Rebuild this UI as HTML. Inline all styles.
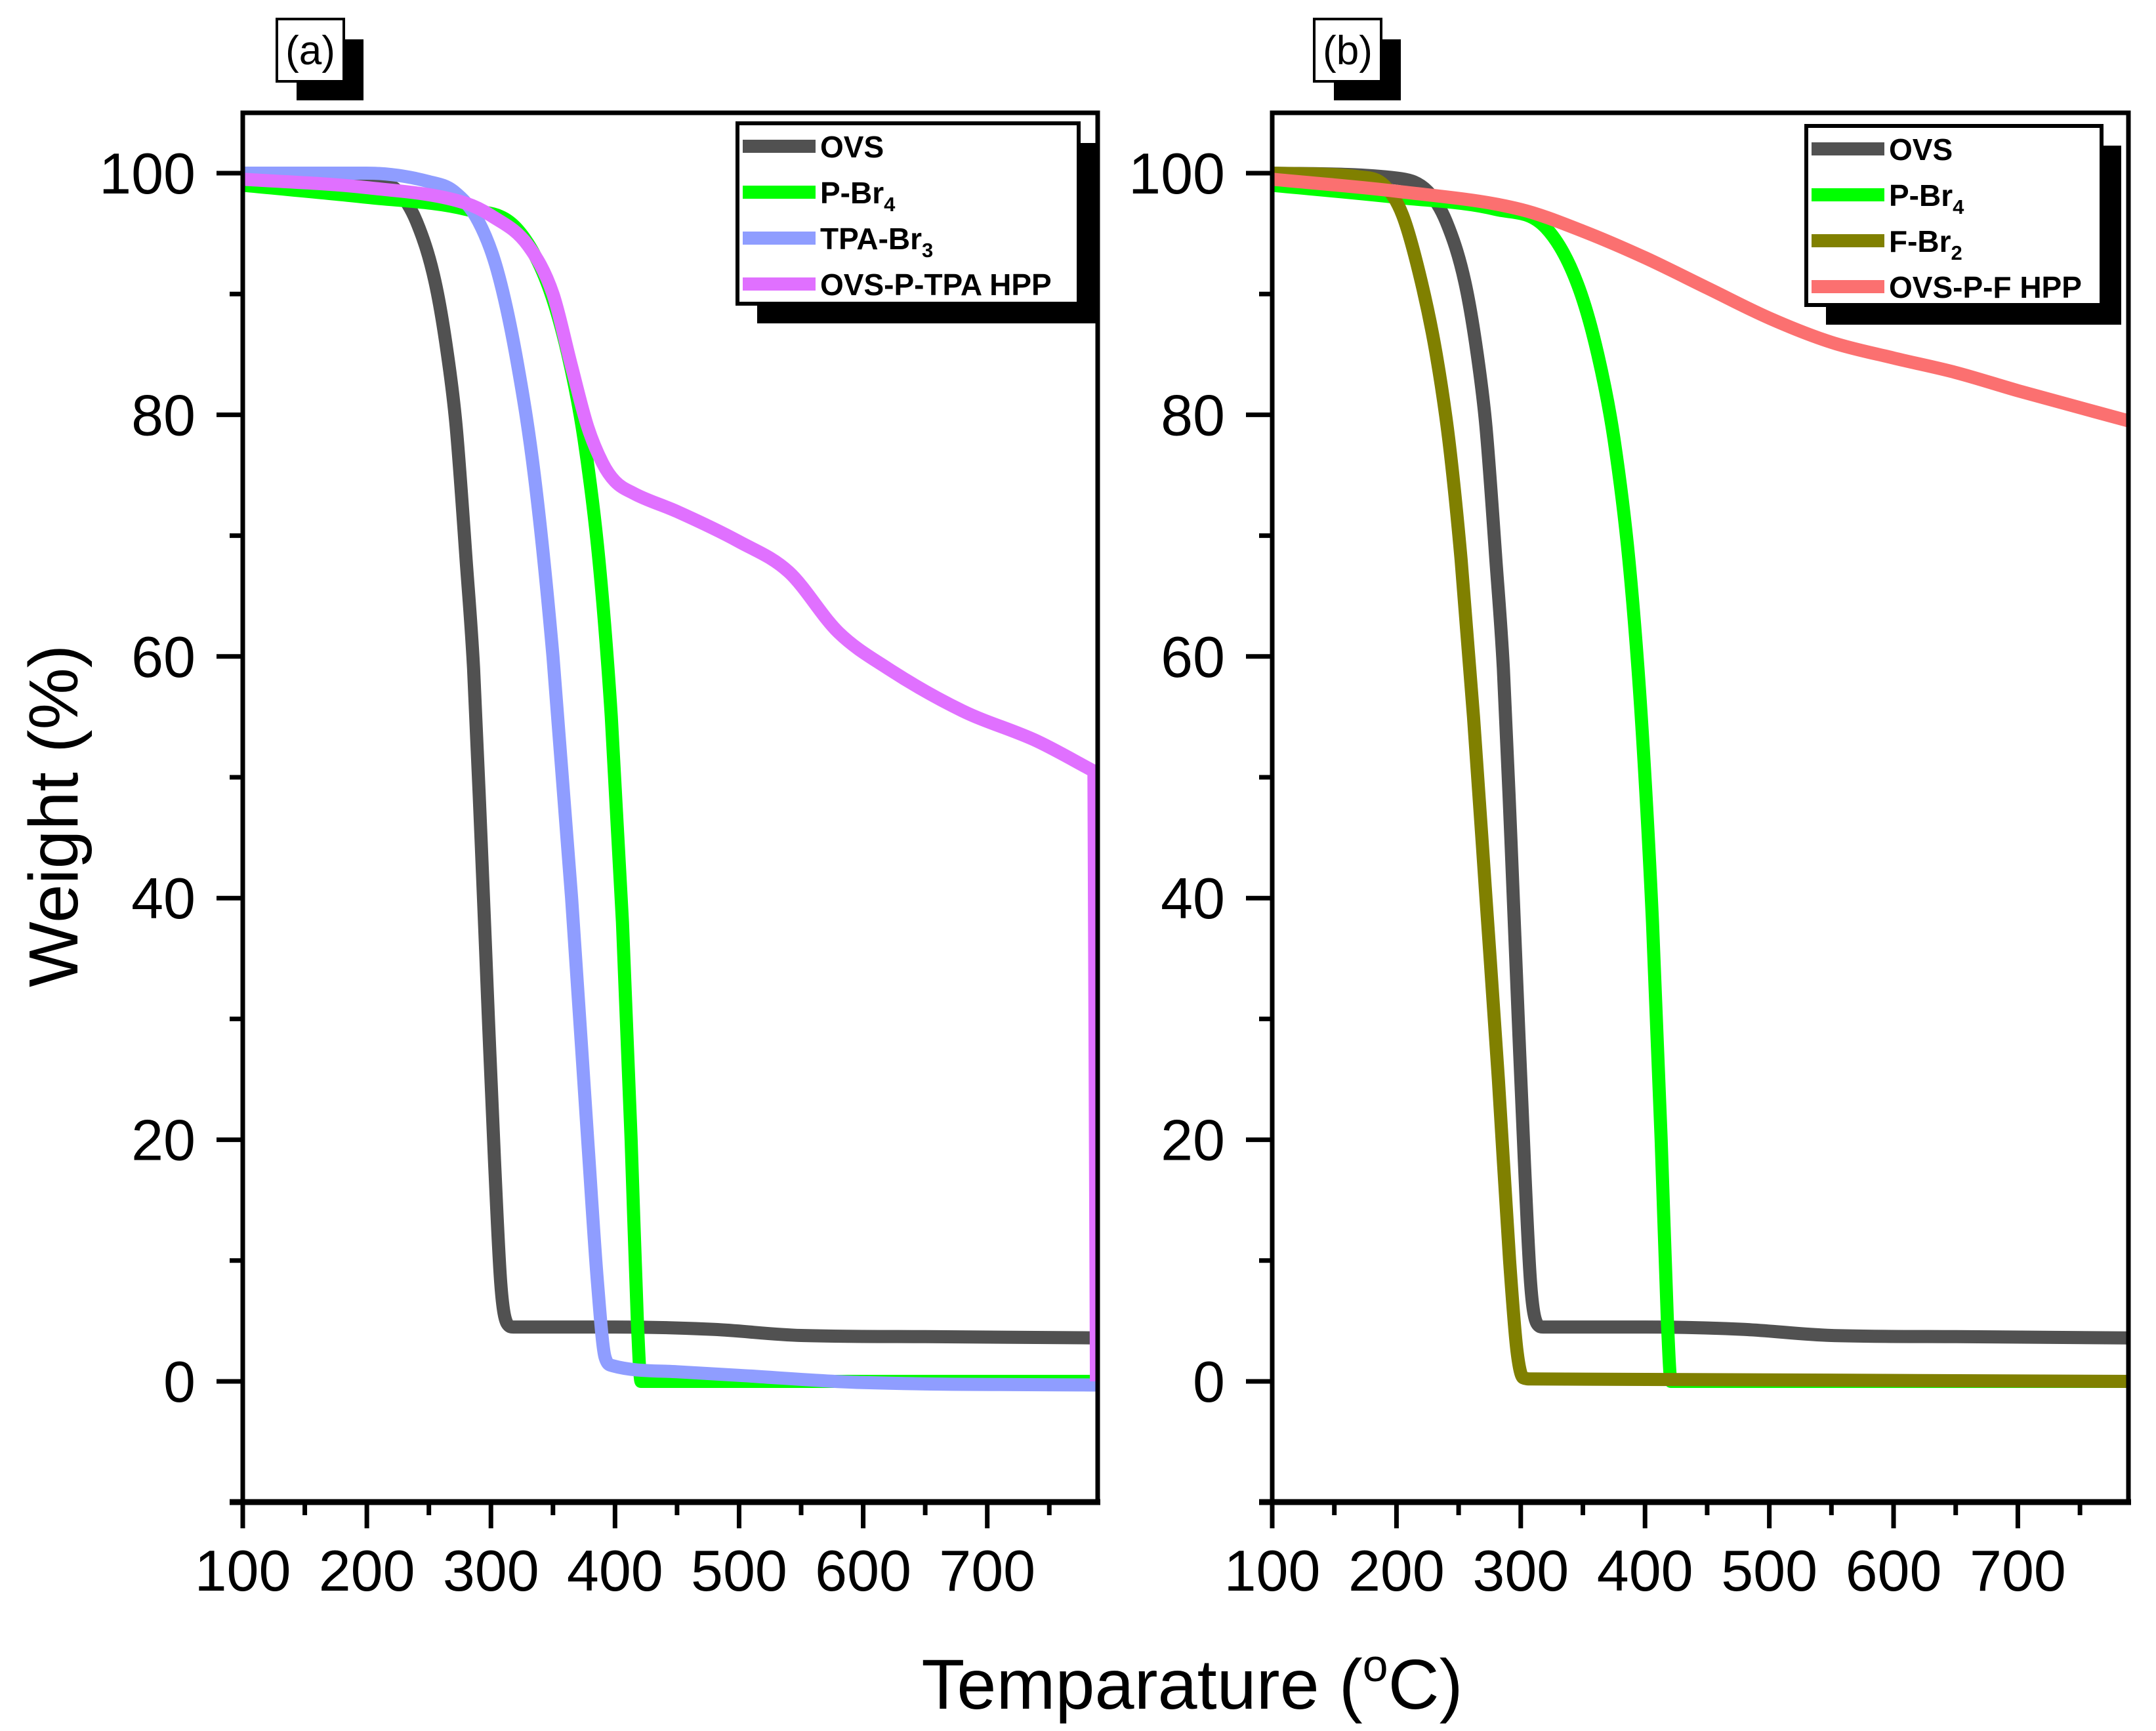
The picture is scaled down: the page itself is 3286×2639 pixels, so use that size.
<!DOCTYPE html>
<html><head><meta charset="utf-8"><style>
html,body{margin:0;padding:0;background:#fff}
svg{display:block}
text{font-family:"Liberation Sans",Arial,sans-serif}
</style></head><body>
<svg id="chart" width="3286" height="2639" viewBox="0 0 3286 2639" xmlns="http://www.w3.org/2000/svg"></svg>
<script>
// ---- data ----
const ovsX = [100,200,225,240,255,265,272,280,286,292,298,303,308,313,318,400,480,550,650,789];
const ovsY = [100,99.6,98.5,96,91,85,79,68,59,45,30,18,8,4.8,4.5,4.5,4.3,3.8,3.7,3.6];
const pbrX = [100,200,280,320,345,362,375,387,397,406,413,418,421,789];
const pbrY = [99,98,97,95.5,91,85,78,68,55,38,20,5,0,0];
const tpaX = [100,200,250,270,290,305,320,335,350,365,378,386,392,398,450,500,600,789];
const tpaY = [100,100,99.3,98.5,96,92,85,75,60,40,20,8,2,1.3,0.8,0.5,-0.1,-0.3];
const hppaX = [100,200,280,300,330,350,365,378,390,400,415,450,500,540,580,620,680,740,786,788];
const hppaY = [99.5,98.8,97.5,96.5,94,90,84,79,76,74.5,73.5,72,69.5,67,62,59,55.5,53,50.5,0];
const fbrX = [100,170,190,205,220,232,242,252,262,272,282,291,297,302,308,789];
const fbrY = [100,99.7,99,96.5,91,85,78,68,55,40,25,10,2.5,0.3,0.2,0];
const hppbX = [100,200,300,350,400,450,500,550,600,650,700,789];
const hppbY = [99.5,98.5,97,95.2,93,90.5,88,86,84.7,83.5,82,79.5];
const xTicks = [100,200,300,400,500,600,700];
const yTicks = [0,20,40,60,80,100];

const svg = document.getElementById('chart');
const NS = 'http://www.w3.org/2000/svg';
function mk(tag, attrs, parent){const e=document.createElementNS(NS,tag);for(const k in attrs)e.setAttribute(k,attrs[k]);(parent||svg).appendChild(e);return e;}

const Y0=2106, Y100=264, TOP=172, BOT=2290;
function yScale(v){return Y0+(Y100-Y0)*v/100;}

// monotone cubic (Fritsch-Carlson) path in pixel space; very steep final drop drawn straight
function monoPath(px, py){
  let tail = null;
  const n0 = px.length;
  if(n0>2){
    const dx = px[n0-1]-px[n0-2], dy = py[n0-1]-py[n0-2];
    if(Math.abs(dy) > 20*Math.abs(dx)){ tail=[px[n0-1],py[n0-1]]; px=px.slice(0,-1); py=py.slice(0,-1); }
  }
  const n=px.length, d=[], m=new Array(n);
  for(let i=0;i<n-1;i++) d.push((py[i+1]-py[i])/(px[i+1]-px[i]||1e-6));
  m[0]=d[0]; m[n-1]=d[n-2];
  for(let i=1;i<n-1;i++){ m[i]=(d[i-1]*d[i]<=0)?0:(d[i-1]+d[i])/2; }
  for(let i=0;i<n-1;i++){
    if(d[i]===0){m[i]=0;m[i+1]=0;continue;}
    const a=m[i]/d[i], b=m[i+1]/d[i], s=a*a+b*b;
    if(s>9){const t=3/Math.sqrt(s);m[i]=t*a*d[i];m[i+1]=t*b*d[i];}
  }
  let p='M'+px[0].toFixed(1)+' '+py[0].toFixed(1);
  for(let i=0;i<n-1;i++){
    const h=(px[i+1]-px[i])/3;
    p+=' C'+(px[i]+h).toFixed(1)+' '+(py[i]+m[i]*h).toFixed(1)+' '+(px[i+1]-h).toFixed(1)+' '+(py[i+1]-m[i+1]*h).toFixed(1)+' '+px[i+1].toFixed(1)+' '+py[i+1].toFixed(1);
  }
  if(tail) p+=' L'+tail[0].toFixed(1)+' '+tail[1].toFixed(1);
  return p;
}

function panel(id, left, right, series, legend, tag, tagX){
  const xs = v => left + (v-100)*(right-left)/689;
  const g = mk('g',{});
  
  
  const cp = mk('clipPath',{id:'clip'+id}, g);
  mk('rect',{x:left,y:TOP,width:right-left,height:BOT-TOP},cp);
  const lines = mk('g',{'clip-path':'url(#clip'+id+')'},g);
  series.forEach(s=>{
    const d = monoPath(s.x.map(xs), s.y.map(yScale));
    const p = mk('path',{d:d,fill:'none',stroke:s.c,'stroke-width':20,'stroke-linejoin':'round'},lines);
    
    
  });
  const fr = mk('rect',{x:left,y:TOP,width:right-left,height:BOT-TOP,fill:'none',stroke:'#000','stroke-width':7},g);
  
  
  mk('line',{x1:left-20,y1:BOT,x2:right+4,y2:BOT,stroke:'#000','stroke-width':9},g);
  for(let v=-10; v<=100; v+=10){
    const major = v%20===0;
    mk('line',{x1:left-(major?40:20),x2:left,y1:yScale(v),y2:yScale(v),stroke:'#000','stroke-width':7},g);
  }
  yTicks.forEach(v=>{
    const t = mk('text',{x:left-72,y:yScale(v)+31,'font-size':88,'text-anchor':'end'},g);
    t.textContent=v;
    
    
  });
  for(let v=100; v<=750; v+=50){
    const major = v%100===0;
    mk('line',{x1:xs(v),x2:xs(v),y1:BOT,y2:BOT+(major?40:20),stroke:'#000','stroke-width':7},g);
  }
  xTicks.forEach(v=>{
    const t = mk('text',{x:xs(v),y:2425,'font-size':88,'text-anchor':'middle'},g);
    t.textContent=v;
    
    
  });
  const lg = mk('g',{},g);
  
  
  mk('rect',{x:legend.x+30,y:legend.y+30,width:legend.w,height:legend.h,fill:'#000'},lg);
  mk('rect',{x:legend.x,y:legend.y,width:legend.w,height:legend.h,fill:'#fff',stroke:'#000','stroke-width':6},lg);
  series.forEach((s,i)=>{
    const cy = legend.y+35+i*70;
    mk('rect',{x:legend.x+8,y:cy-10,width:111,height:20,fill:s.c},lg);
    const t = mk('text',{x:legend.x+126,y:cy+17,'font-size':46,'font-weight':'bold'},lg);
    
    
    t.textContent = s.label;
    if(s.sub){const ts=mk('tspan',{'font-size':31,dy:12},t);ts.textContent=s.sub;}
  });
  mk('rect',{x:tagX+30,y:60,width:102,height:93,fill:'#000'},g);
  mk('rect',{x:tagX,y:29,width:102,height:95,fill:'#fff',stroke:'#000','stroke-width':4},g);
  const tt = mk('text',{x:tagX+51,y:98,'font-size':62,'text-anchor':'middle'},g);
  tt.textContent = tag;
  
  
}

panel('a',370,1673,[
  {n:'ovs',x:ovsX,y:ovsY,c:'#515151',label:'OVS'},
  {n:'p-br4',x:pbrX,y:pbrY,c:'#00ff00',label:'P-Br',sub:'4'},
  {n:'tpa-br3',x:tpaX,y:tpaY,c:'#8f9dff',label:'TPA-Br',sub:'3'},
  {n:'ovs-p-tpa-hpp',x:hppaX,y:hppaY,c:'#e070ff',label:'OVS-P-TPA HPP'}
],{x:1124,y:188,w:520,h:275},'(a)',422);

panel('b',1939,3244,[
  {n:'ovs',x:ovsX,y:ovsY,c:'#515151',label:'OVS'},
  {n:'p-br4',x:pbrX,y:pbrY,c:'#00ff00',label:'P-Br',sub:'4'},
  {n:'f-br2',x:fbrX,y:fbrY,c:'#808000',label:'F-Br',sub:'2'},
  {n:'ovs-p-f-hpp',x:hppbX,y:hppbY,c:'#fb7070',label:'OVS-P-F HPP'}
],{x:2753,y:192,w:450,h:273},'(b)',2003);

const yt = mk('text',{x:0,y:0,'font-size':106,'text-anchor':'middle',transform:'translate(118,1244) rotate(-90)'});
yt.textContent='Weight (%)';


const xt = mk('text',{x:1817,y:2605,'font-size':108,'text-anchor':'middle'});


xt.appendChild(document.createTextNode('Temparature ('));
const sup = mk('tspan',{'font-size':70,dy:-42},xt); sup.textContent='o';
const rest = mk('tspan',{dy:42},xt); rest.textContent='C)';
</script>
</body></html>
